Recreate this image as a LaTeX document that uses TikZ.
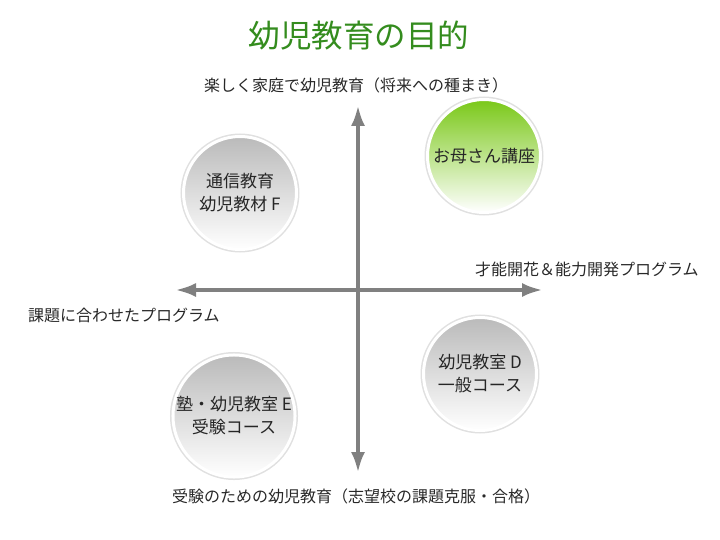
\documentclass[tikz,border=0pt]{standalone}
\usepackage{fontspec}
\setmainfont{Noto Sans CJK JP}
\usepackage{tikz}
\usetikzlibrary{arrows.meta,positioning}
\usepackage{xcolor}
\definecolor{titlegreen}{RGB}{52,140,30}
\definecolor{leafgreen}{RGB}{122,200,24}
\definecolor{axisgray}{RGB}{128,128,128}
\definecolor{labelgray}{RGB}{40,40,40}

\begin{document}
\begin{tikzpicture}[x=1pt,y=-1pt,
    axis/.style={axisgray,line width=4.5pt,{Latex[length=21pt,width=14pt]}-{Latex[length=21pt,width=14pt]}},
    axislabel/.style={labelgray,font=\fontsize{16}{18}\selectfont,inner sep=0pt},
    ball/.style={circle,minimum size=113pt,inner sep=0pt,outer sep=0pt,
      draw=white,line width=3pt,preaction={draw=black!12,line width=6pt},
      align=center,text=black!85,font=\fontsize{17}{23}\selectfont},
    grayball/.style={ball,top color=black!27,bottom color=white},
    greenball/.style={ball,top color=leafgreen,bottom color=white}]
  \useasboundingbox (0,0) rectangle (720,540);
  % title
  \node[titlegreen,font=\fontsize{31.5}{36}\selectfont] (title) at (359,36) {幼児教育の目的};
  % axes
  \coordinate (ytop) at (358,105);
  \coordinate (ybot) at (358,473);
  \coordinate (xleft) at (175,290);
  \coordinate (xright) at (543,290);
  \draw[axis] (ybot) -- (ytop);
  \draw[axis] (xleft) -- (xright);
  % axis labels
  \node[axislabel] (toplabel) at (356,85) {楽しく家庭で幼児教育（将来への種まき）};
  \node[axislabel,anchor=west] (rightlabel) at (475,269) {才能開花＆能力開発プログラム};
  \node[axislabel,anchor=west] (leftlabel) at (28,315) {課題に合わせたプログラム};
  \node[axislabel] (botlabel) at (356,496) {受験のための幼児教育（志望校の課題克服・合格）};
  % quadrants
  \node[greenball] (mother) at (484,156) {お母さん講座};
  \node[grayball] (tsushin) at (240,193) {通信教育\\幼児教材 F};
  \node[grayball] (juku) at (234,416) {塾・幼児教室 E\\受験コース};
  \node[grayball] (ippan) at (480,374) {幼児教室 D\\一般コース};
\end{tikzpicture}
\end{document}
